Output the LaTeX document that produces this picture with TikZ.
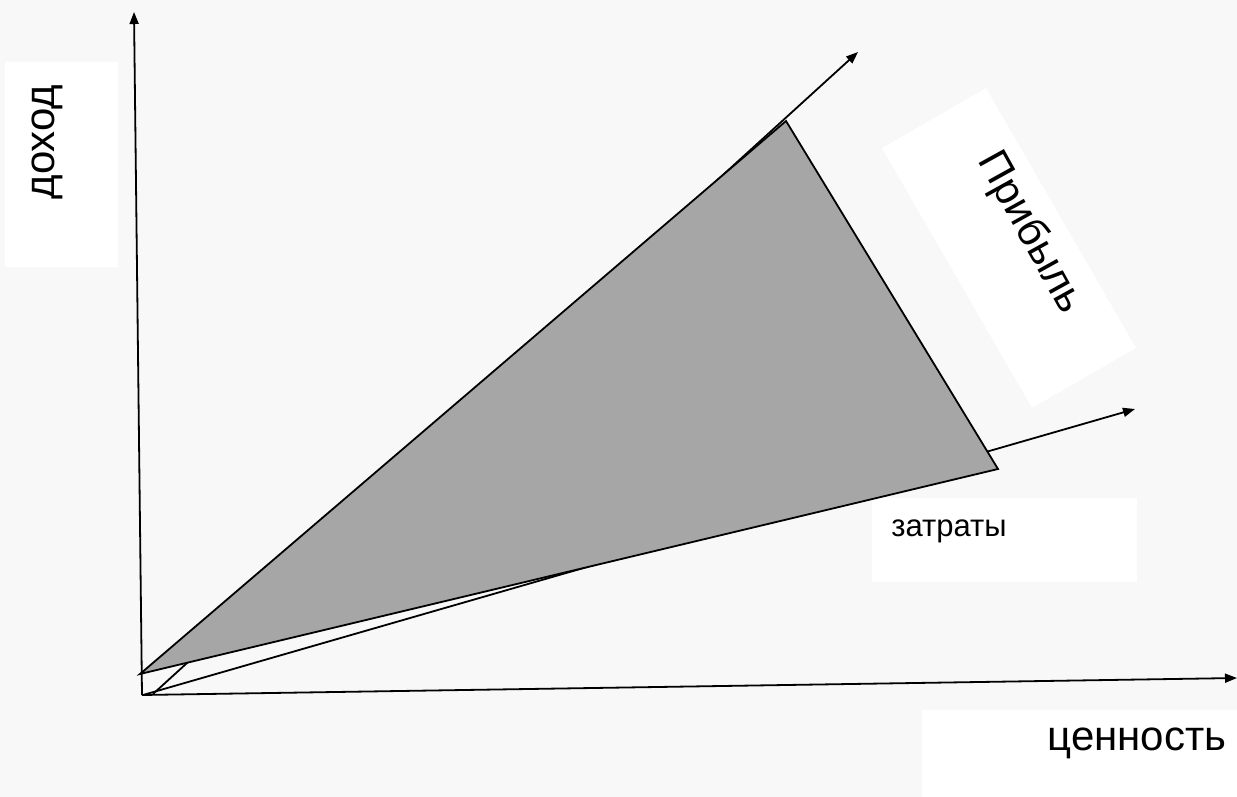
\documentclass[tikz,border=0pt]{standalone}
\usepackage{fontspec}
\setmainfont{Liberation Sans}
\usetikzlibrary{arrows.meta}
\definecolor{bgc}{RGB}{248,248,248}
\definecolor{fillc}{RGB}{166,166,166}
\begin{document}
\begin{tikzpicture}[x=1pt,y=-1pt,
  axis/.style={line width=1.8pt,-{Triangle[length=12pt,width=9pt]}},
  whitebox/.style={fill=white,draw=none,inner sep=0pt},
  lbl/.style={inner sep=0pt,font=\fontsize{42}{46}\selectfont},
  smalllbl/.style={inner sep=0pt,font=\fontsize{31}{34}\selectfont}]
\fill[bgc] (0,0) rectangle (1237,797);
\useasboundingbox (0,0) rectangle (1237,797);
% white label boxes
\node[whitebox,minimum width=113pt,minimum height=205pt] (bdoh) at (61.5,164.5) {};
\node[whitebox,minimum width=315pt,minimum height=87pt] (bcen) at (1079.5,753.5) {};
\node[whitebox,minimum width=265pt,minimum height=84pt] (bzat) at (1004.5,540) {};
\node[whitebox,minimum width=300pt,minimum height=120pt,rotate=-60] (bpri) at (1009,248) {};
% coordinates
\coordinate (O) at (142,695);
\coordinate (Ytip) at (134,12);
\coordinate (Xtip) at (1237,678);
\coordinate (Ps) at (153,694);
\coordinate (Ptip) at (858,52);
\coordinate (Cs) at (143,695);
\coordinate (Ctip) at (1135,409);
\coordinate (T1) at (140,674);
\coordinate (T2) at (786,121);
\coordinate (T3) at (998,469);
% axes and lines
\draw[axis] (O) -- (Ytip);
\draw[axis] (O) -- (Xtip);
\draw[axis] (Ps) -- (Ptip);
\draw[axis] (Cs) -- (Ctip);
% profit triangle
\draw[fill=fillc,line width=1.8pt,line join=miter] (T1) -- (T2) -- (T3) -- cycle;
% labels
\node[lbl,rotate=90] (doh) at (47,142) {доход};
\node[lbl] (cen) at (1137,743) {ценность};
\node[smalllbl] (zat) at (949,531) {затраты};
\node[lbl,rotate=-61] (pri) at (1030,233) {Прибыль};
\end{tikzpicture}
\end{document}
